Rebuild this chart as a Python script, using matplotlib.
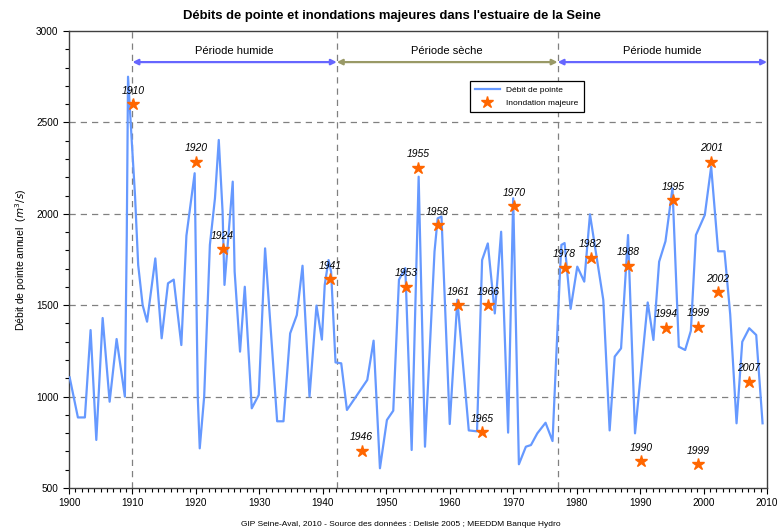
import matplotlib
matplotlib.use("Agg")
import matplotlib.pyplot as plt
from matplotlib.ticker import MultipleLocator

plt.rcParams['font.family'] = ['Liberation Sans', 'DejaVu Sans']

# débit de pointe annuel, sommets
years = [1900.1, 1901.4, 1902.5, 1903.4, 1904.3, 1905.3, 1906.4, 1907.5, 1908.8,
         1909.1, 1909.3, 1909.85, 1910.4, 1910.9, 1911.6, 1912.3, 1913.6, 1914.6,
         1915.6, 1916.5, 1917.7, 1918.5, 1919.8, 1920.3, 1920.6, 1921.3, 1922.2,
         1923.0, 1923.6, 1924.2, 1924.5, 1925.8, 1926.1, 1926.95, 1927.7, 1928.8,
         1929.9, 1930.9, 1932.8, 1933.8, 1934.85, 1935.9, 1936.8, 1937.9, 1939.0,
         1939.85, 1940.3, 1940.9, 1941.3, 1942.0, 1942.9, 1943.8, 1947.0, 1948.0,
         1949.0, 1950.1, 1951.1, 1952.0, 1953.0, 1954.0, 1955.1, 1956.1, 1957.6,
         1958.1, 1958.7, 1960.0, 1961.2, 1963.0, 1964.3, 1965.1, 1966.0, 1967.1,
         1968.1, 1969.2, 1970.0, 1970.9, 1972.0, 1972.8, 1973.8, 1975.1, 1976.2,
         1977.4, 1977.6, 1978.1, 1979.05, 1980.1, 1981.2, 1982.1, 1984.2, 1985.2,
         1986.0, 1987.0, 1988.1, 1989.2, 1991.2, 1992.1, 1993.0, 1994.0, 1995.1,
         1996.1, 1997.1, 1998.0, 1998.8, 2000.2, 2001.2, 2002.3, 2003.3, 2004.2,
         2005.2, 2006.1, 2007.2, 2008.3, 2009.3]
debit = [1105, 886, 886, 1364, 763, 1430, 972, 1315, 1000,
         1875, 2750, 2420, 2100, 1720, 1501, 1410, 1756, 1319,
         1620, 1640, 1282, 1880, 2222, 990, 717, 1000, 1830,
         2085, 2404, 2012, 1611, 2176, 1684, 1246, 1601, 936,
         1009, 1811, 865, 865, 1346, 1446, 1716, 1000, 1498,
         1312, 1611, 1747, 1684, 1187, 1182, 927, 1091, 1306,
         608, 872, 923, 1640, 1703, 708, 2203, 726, 1793,
         1975, 1985, 850, 1530, 815, 810, 1747, 1838, 1455,
         1902, 803, 2085, 630, 726, 735, 799, 857, 757,
         1700, 1830, 1840, 1480, 1711, 1629, 1997, 1529, 815,
         1219, 1264, 1884, 799, 1515, 1310, 1738, 1850, 2140,
         1273, 1255, 1360, 1884, 1994, 2258, 1795, 1795, 1450,
         854, 1300, 1374, 1337, 854]

# inondations majeures
crue_annees = [1910, 1920, 1924, 1941, 1946, 1953, 1955, 1958, 1961, 1965, 1966,
               1970, 1978, 1982, 1988, 1990, 1994, 1995, 1999, 1999, 2001, 2002, 2007]
crue_x = [1910.1, 1920.0, 1924.2, 1941.2, 1946.1, 1953.1, 1955.0, 1958.1, 1961.3,
          1965.1, 1966.0, 1970.1, 1978.1, 1982.2, 1988.1, 1990.2, 1994.1, 1995.2,
          1999.1, 1999.1, 2001.2, 2002.2, 2007.1]
crue_debit = [2600, 2285, 1808, 1642, 705, 1602, 2253, 1939, 1501, 806, 1501,
              2043, 1706, 1760, 1716, 645, 1377, 2076, 1383, 631, 2285, 1571, 1082]

periodes = [("Période humide", 1910, 1942.2, "#6666ff"),
            ("Période sèche", 1942.2, 1977, "#999966"),
            ("Période humide", 1977, 2010, "#6666ff")]

fig = plt.figure(figsize=(7.79, 5.32), dpi=100)
ax = fig.add_axes([0.0886, 0.0827, 0.8960, 0.8590])

for v in [1000, 1500, 2000, 2500]:
    ax.axhline(v, color="#808080", lw=0.9, ls=(0, (5, 4)), zorder=1)
for x in [1910, 1942.2, 1977]:
    ax.axvline(x, color="#808080", lw=0.9, ls=(0, (5, 4)), zorder=1)

ax.plot(years, debit, color="#6699ff", lw=1.6, label="Débit de pointe", zorder=3)
ax.plot(crue_x, crue_debit, ls="none", marker="*", ms=9, color="#ff6600",
        mec="#ff6600", label="Inondation majeure", zorder=4)
for a, x, v in zip(crue_annees, crue_x, crue_debit):
    ax.annotate(str(a), (x, v), xytext=(0, 6), textcoords="offset points",
                ha="center", va="bottom", fontsize=7.5, style="italic", zorder=5)

for nom, x0, x1, c in periodes:
    ax.annotate("", xy=(x0, 2830), xytext=(x1, 2830),
                arrowprops=dict(arrowstyle="<|-|>", color=c, lw=1.6,
                                mutation_scale=8, shrinkA=0, shrinkB=0))
    ax.text((x0 + x1) / 2, 2865, nom, ha="center", va="bottom", fontsize=8)

ax.set_xlim(1900, 2010)
ax.set_ylim(500, 3000)
ax.xaxis.set_major_locator(MultipleLocator(10))
ax.xaxis.set_minor_locator(MultipleLocator(1))
ax.yaxis.set_major_locator(MultipleLocator(500))
ax.yaxis.set_minor_locator(MultipleLocator(100))
ax.tick_params(which="both", direction="out", labelsize=7.2, width=0.8)
ax.tick_params(which="major", length=4)
ax.tick_params(which="minor", length=3)
for s in ax.spines.values():
    s.set_color("#404040")
    s.set_linewidth(1.0)

ax.set_ylabel("Débit de pointe annuel  ($m^3/s$)", fontsize=7.5, labelpad=5)

leg = ax.legend(loc="upper left", bbox_to_anchor=(0.568, 0.9), fontsize=6,
                frameon=True, fancybox=False, edgecolor="black", framealpha=1,
                handlelength=3, borderpad=0.6, labelspacing=0.6)
leg.get_frame().set_linewidth(0.9)

fig.text(0.503, 0.970, "Débits de pointe et inondations majeures dans l'estuaire de la Seine",
         ha="center", va="center", fontsize=9.4, fontweight="bold")
fig.text(0.515, 0.015, "GIP Seine-Aval, 2010 - Source des données : Delisle 2005 ; MEEDDM Banque Hydro",
         ha="center", va="center", fontsize=6)

fig.savefig("out.png", dpi=100)
